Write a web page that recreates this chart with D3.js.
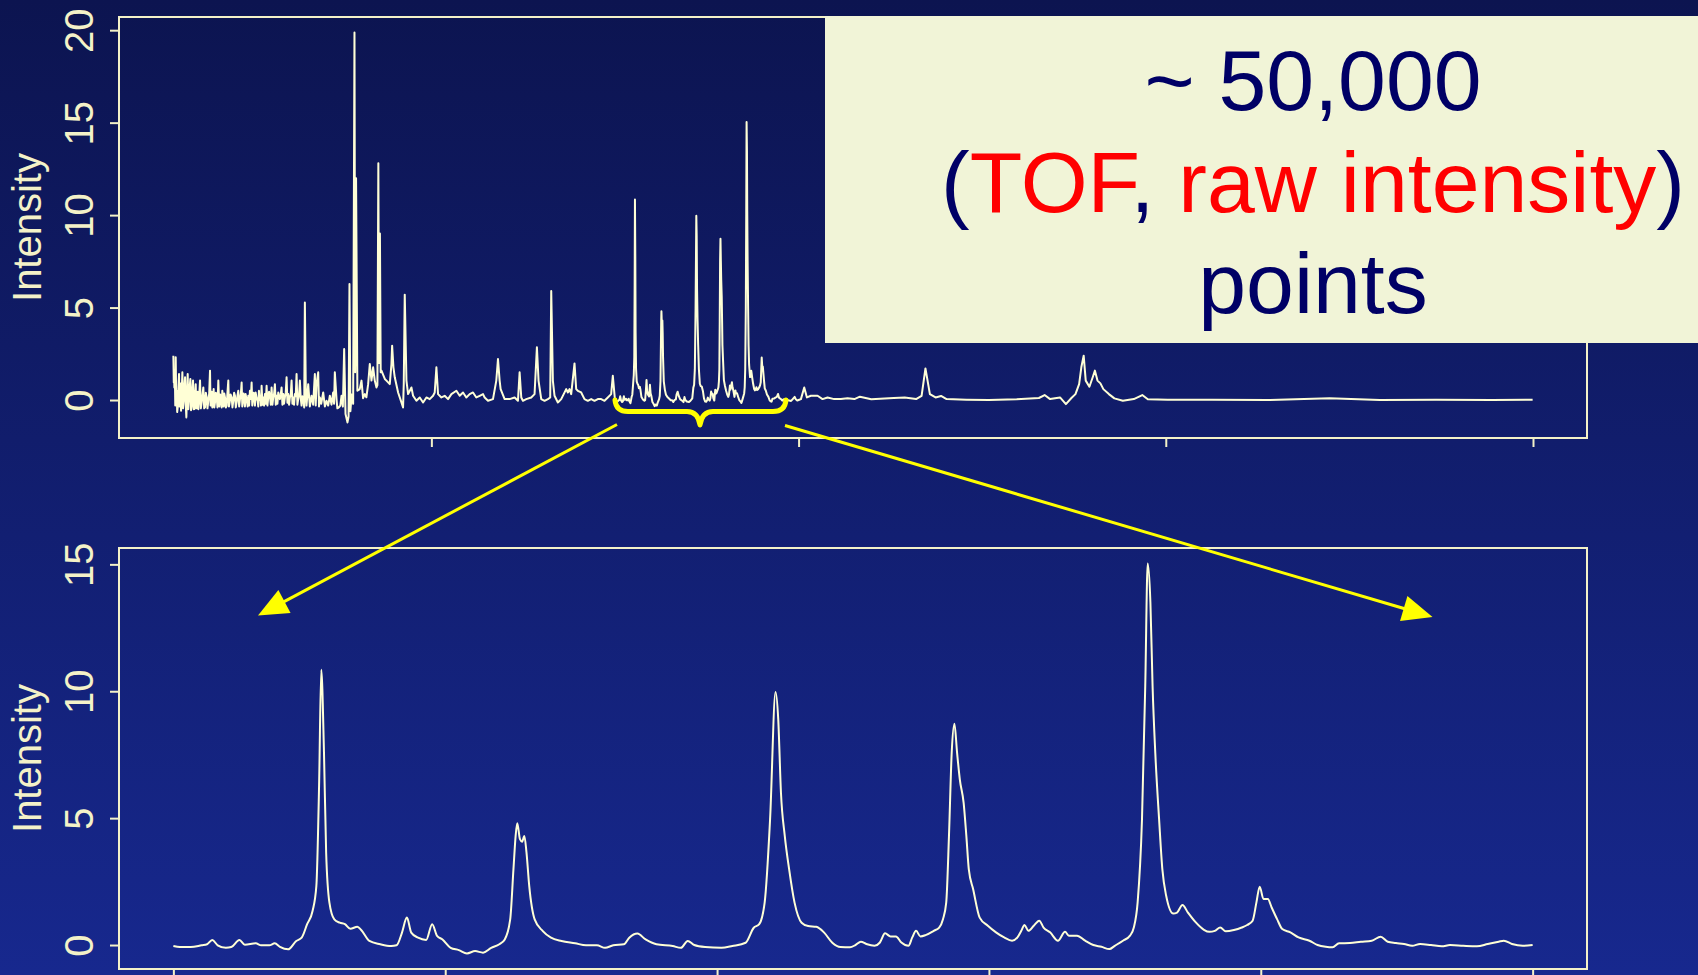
<!DOCTYPE html>
<html>
<head>
<meta charset="utf-8">
<script src="https://cdn.jsdelivr.net/npm/d3@7"></script>
<style>
  html, body { margin: 0; padding: 0; background: #0d1550; overflow: hidden; }
  svg { display: block; }
</style>
</head>
<body>
<svg id="chart" width="1698" height="975"></svg>
<script>
// Time-of-flight positions are in thousands of points, intensities are raw detector units.

// Tick positions
const FULL_TOF_TICKS = [10, 20, 30, 40];
const ZOOM_TOF_TICKS = [15, 16, 17, 18, 19, 20];
const FULL_INTENSITY_TICKS = [0, 5, 10, 15, 20];
const ZOOM_INTENSITY_TICKS = [0, 5, 10, 15];

// Noisy low-TOF end of the spectrum: [tof, intensity]
const SPECTRUM_NOISE = [
  [2.974,2.40],[2.985,0.95],[2.993,1.60],[3.001,0.68],[3.015,1.20],[3.026,-0.30],[3.038,2.31],[3.050,0.20],
  [3.065,0.50],[3.078,-0.65],[3.092,-0.40],[3.110,0.60],[3.128,1.41],[3.142,-0.35],[3.156,0.14],[3.170,0.90],
  [3.183,-0.58],[3.200,0.30],[3.219,1.50],[3.237,-0.45],[3.255,-0.04],[3.273,0.75],[3.292,1.23],[3.310,-0.20],
  [3.328,-0.94],[3.346,0.40],[3.364,1.41],[3.382,-0.50],[3.400,0.05],[3.418,0.70],[3.437,1.14],[3.455,-0.55],
  [3.473,-0.31],[3.491,0.55],[3.509,1.05],[3.527,-0.50],[3.545,-0.49],[3.563,0.30],[3.582,0.86],[3.600,-0.45],
  [3.618,-0.04],[3.636,0.45],[3.654,-0.50],[3.677,0.20],[3.700,1.05],[3.722,-0.45],[3.745,-0.13],[3.768,0.30],
  [3.790,0.68],[3.813,-0.45],[3.836,-0.40],[3.858,0.40],[3.881,0.14],[3.903,-0.45],[3.926,-0.04],[3.949,0.35],
  [3.972,1.59],[3.986,-0.30],[3.999,0.14],[4.017,0.45],[4.035,-0.40],[4.053,-0.10],[4.071,0.59],[4.090,-0.40],
  [4.108,-0.13],[4.130,0.40],[4.153,0.14],[4.175,-0.40],[4.198,1.05],[4.212,0.30],[4.225,-0.35],[4.248,0.30],
  [4.271,0.05],[4.289,-0.40],[4.307,0.50],[4.325,0.10],[4.343,-0.35],[4.361,0.35],[4.380,0.14],[4.402,-0.40],
  [4.425,-0.31],[4.447,0.40],[4.470,1.05],[4.488,-0.35],[4.507,-0.13],[4.534,0.30],[4.561,0.14],[4.583,-0.40],
  [4.606,-0.04],[4.629,0.40],[4.652,0.23],[4.674,-0.40],[4.697,-0.13],[4.720,0.25],[4.742,0.50],[4.765,-0.35],
  [4.788,0.05],[4.810,0.30],[4.833,0.95],[4.851,-0.35],[4.869,-0.04],[4.887,0.35],[4.905,0.14],[4.923,-0.35],
  [4.942,0.32],[4.960,0.10],[4.978,-0.04],[4.996,-0.35],[5.014,0.23],[5.036,-0.30],[5.059,0.50],[5.082,0.05],
  [5.105,0.95],[5.123,-0.30],[5.141,0.05],[5.159,0.40],[5.177,0.23],[5.195,-0.30],[5.214,0.41],[5.241,0.10],
  [5.268,-0.04],[5.286,-0.35],[5.304,0.50],[5.322,0.00],[5.341,0.23],[5.359,-0.30],[5.377,0.77],[5.400,-0.25],
  [5.422,0.14],[5.445,-0.30],[5.467,0.32],[5.490,-0.20],[5.513,0.77],[5.536,-0.30],[5.558,0.14],[5.580,0.45],
  [5.603,0.23],[5.626,-0.25],[5.649,0.68],[5.672,-0.25],[5.694,0.14],[5.717,0.35],[5.739,0.86],[5.762,-0.25],
  [5.785,0.23],[5.808,-0.20],[5.830,0.41],[5.853,0.20],[5.875,0.05],[5.898,0.30],[5.921,0.68],[5.944,-0.25],
  [5.966,0.32],[5.989,-0.20],[6.011,0.14],[6.034,0.40],[6.057,1.23],[6.080,-0.15],[6.102,0.32],[6.125,-0.25],
  [6.147,0.14],[6.170,0.30],[6.193,1.05],[6.216,-0.20],[6.238,0.14],[6.261,-0.25],[6.283,0.32],[6.306,0.20],
  [6.329,1.41],[6.352,-0.25],[6.374,0.05],[6.397,0.30],[6.419,1.05],[6.442,0.10],[6.465,-0.30],[6.488,0.20],
  [6.510,0.14],[6.537,-0.40]
];

// From the noisy end up to the enlarged window: [tof, intensity]
const SPECTRUM_BEFORE = [
  [6.555,5.28],[6.583,0.14],[6.600,-0.30],[6.646,0.86],[6.690,-0.35],[6.737,0.23],[6.780,-0.25],[6.827,1.41],
  [6.850,-0.30],[6.873,0.86],[6.918,1.50],[6.940,-0.35],[6.963,0.14],[7.000,-0.20],[7.054,0.41],[7.100,-0.35],
  [7.145,-0.04],[7.190,-0.30],[7.235,0.23],[7.280,-0.25],[7.326,0.41],[7.350,-0.20],[7.371,1.50],[7.417,0.05],
  [7.440,-0.45],[7.480,-0.40],[7.520,-0.30],[7.553,0.23],[7.590,-0.35],[7.625,2.76],[7.662,-0.76],[7.716,-1.21],
  [7.745,-0.90],[7.770,6.27],[7.795,-0.60],[7.830,0.30],[7.870,-0.20],[7.906,19.87],[7.925,1.50],[7.949,12.00],
  [7.985,0.50],[8.050,0.59],[8.097,1.05],[8.140,0.10],[8.188,0.32],[8.230,0.15],[8.278,0.86],[8.323,1.95],
  [8.369,1.05],[8.414,1.77],[8.459,1.05],[8.505,0.68],[8.530,0.80],[8.556,12.80],[8.575,2.00],[8.599,9.00],
  [8.620,1.50],[8.641,1.59],[8.732,1.14],[8.777,1.05],[8.867,0.86],[8.913,1.95],[8.931,2.94],[8.967,1.77],
  [9.003,1.23],[9.094,0.41],[9.185,-0.13],[9.229,-0.40],[9.248,0.86],[9.275,5.70],[9.321,1.05],[9.366,0.32],
  [9.457,0.68],[9.502,0.23],[9.593,-0.04],[9.683,0.14],[9.774,-0.13],[9.865,0.14],[9.955,0.05],[10.046,0.23],
  [10.091,0.41],[10.137,1.77],[10.182,0.32],[10.273,0.14],[10.363,0.23],[10.454,0.05],[10.545,0.32],[10.681,0.50],
  [10.771,0.23],[10.862,0.41],[10.952,0.14],[11.043,0.32],[11.134,0.41],[11.224,0.14],[11.315,0.23],[11.406,0.32],
  [11.451,0.14],[11.542,-0.04],[11.678,0.05],[11.768,1.05],[11.814,2.22],[11.859,1.05],[11.886,0.59],[11.995,0.05],
  [12.131,0.05],[12.267,0.14],[12.358,-0.04],[12.403,1.50],[12.448,0.14],[12.493,-0.04],[12.584,0.05],[12.720,0.14],
  [12.810,0.32],[12.874,2.85],[12.919,1.04],[12.992,0.05],[13.082,-0.04],[13.173,0.05],[13.236,0.14],[13.264,5.90],
  [13.309,1.04],[13.354,0.23],[13.445,-0.13],[13.536,0.05],[13.672,0.59],[13.717,0.41],[13.762,0.59],[13.808,0.32],
  [13.898,1.98],[13.944,0.59],[13.989,0.50],[14.080,0.41],[14.170,0.05],[14.261,-0.04],[14.352,0.05],[14.442,-0.04],
  [14.533,0.05],[14.624,0.05],[14.715,-0.04],[14.805,0.14],[14.896,0.32],[14.941,1.31],[14.986,0.32]
];

// Enlarged window, 15k to 20k points: [tof, intensity]
const SPECTRUM_WINDOW = [
  [15.000,-0.04],[15.024,-0.08],[15.064,-0.08],[15.104,-0.01],[15.124,0.03],[15.143,0.20],[15.163,-0.01],[15.193,-0.11],
  [15.213,-0.08],[15.243,0.20],[15.263,0.01],[15.303,0.07],[15.323,-0.01],[15.353,-0.01],[15.373,0.07],[15.392,-0.07],
  [15.422,-0.17],[15.452,0.16],[15.472,0.29],[15.492,0.82],[15.512,1.34],[15.526,2.33],[15.536,6.28],[15.544,10.85],
  [15.554,7.60],[15.562,3.64],[15.574,1.67],[15.592,1.01],[15.612,0.88],[15.631,0.82],[15.651,0.64],[15.677,0.72],
  [15.691,0.59],[15.721,0.16],[15.761,0.03],[15.801,-0.04],[15.821,-0.01],[15.841,0.49],[15.859,1.08],[15.875,0.49],
  [15.900,0.29],[15.930,0.20],[15.952,0.82],[15.970,0.36],[15.990,0.22],[16.020,-0.11],[16.050,-0.20],[16.080,-0.33],
  [16.110,-0.24],[16.139,-0.30],[16.169,-0.11],[16.199,0.03],[16.219,0.22],[16.239,1.01],[16.251,2.99],[16.259,4.30],
  [16.265,4.80],[16.275,4.17],[16.283,4.07],[16.291,4.30],[16.299,3.64],[16.309,2.33],[16.329,1.01],[16.359,0.55],
  [16.389,0.29],[16.428,0.16],[16.478,0.07],[16.518,-0.01],[16.558,-0.01],[16.588,-0.11],[16.618,-0.01],[16.657,0.03],
  [16.677,0.29],[16.707,0.45],[16.737,0.22],[16.777,0.03],[16.837,-0.04],[16.867,-0.11],[16.892,0.16],[16.916,0.00],
  [16.956,-0.08],[17.016,-0.11],[17.056,-0.04],[17.105,0.09],[17.135,0.68],[17.155,0.82],[17.175,1.67],[17.195,4.96],
  [17.215,9.97],[17.225,8.89],[17.235,6.00],[17.249,4.30],[17.265,2.99],[17.285,1.67],[17.311,0.88],[17.335,0.75],
  [17.365,0.72],[17.394,0.49],[17.424,0.09],[17.454,-0.08],[17.489,-0.09],[17.509,0.00],[17.529,0.13],[17.549,0.04],
  [17.579,-0.03],[17.599,0.10],[17.618,0.46],[17.638,0.34],[17.658,0.34],[17.678,0.10],[17.704,-0.03],[17.718,0.30],
  [17.732,0.56],[17.748,0.34],[17.767,0.39],[17.797,0.56],[17.817,0.69],[17.831,1.02],[17.843,1.68],[17.853,4.29],
  [17.863,7.56],[17.873,8.72],[17.883,7.56],[17.893,6.52],[17.907,5.60],[17.917,4.29],[17.926,2.98],[17.942,2.20],
  [17.966,1.08],[17.996,0.76],[18.026,0.50],[18.056,0.30],[18.085,0.17],[18.105,0.30],[18.119,0.56],[18.131,0.79],
  [18.145,0.56],[18.165,0.76],[18.185,0.96],[18.201,0.69],[18.225,0.50],[18.254,0.17],[18.280,0.52],[18.294,0.37],
  [18.324,0.37],[18.354,0.17],[18.384,0.00],[18.414,-0.07],[18.443,-0.16],[18.463,-0.03],[18.493,0.17],[18.519,0.37],
  [18.533,0.69],[18.547,1.68],[18.563,4.95],[18.575,10.20],[18.584,15.03],[18.594,13.50],[18.602,10.20],[18.612,7.56],
  [18.626,4.95],[18.638,2.98],[18.652,1.94],[18.678,1.24],[18.692,1.28],[18.712,1.58],[18.732,1.28],[18.761,0.89],
  [18.791,0.60],[18.811,0.52],[18.831,0.56],[18.851,0.69],[18.871,0.54],[18.901,0.59],[18.930,0.69],[18.950,0.79],
  [18.970,0.96],[18.984,1.68],[18.996,2.30],[19.010,1.81],[19.026,1.81],[19.040,1.48],[19.060,1.02],[19.079,0.63],
  [19.109,0.50],[19.139,0.30],[19.179,0.17],[19.209,0.00],[19.239,-0.07],[19.264,-0.09],[19.288,0.07],[19.328,0.08],
  [19.368,0.13],[19.408,0.17],[19.441,0.33],[19.467,0.13],[19.497,0.08],[19.527,0.04],[19.557,-0.03],[19.586,0.04],
  [19.626,0.00],[19.666,-0.05],[19.696,0.00],[19.745,-0.03],[19.795,-0.05],[19.835,0.04],[19.875,0.13],[19.894,0.17],
  [19.924,0.04],[19.964,-0.03],[20.000,0.00]
];

// Spectrum after the enlarged window: [tof, intensity]
const SPECTRUM_AFTER = [
  [20.064,0.05],[20.154,0.68],[20.227,0.14],[20.336,0.23],[20.517,0.23],[20.653,0.05],[20.789,0.14],[20.970,0.05],
  [21.151,0.05],[21.333,0.10],[21.520,0.05],[21.670,0.18],[21.980,0.04],[22.590,0.11],[22.890,0.14],[23.200,0.05],
  [23.350,0.23],[23.455,1.71],[23.576,0.32],[23.730,0.14],[23.880,0.22],[24.030,0.05],[24.570,0.02],[25.180,0.00],
  [25.940,0.04],[26.545,0.11],[26.700,0.27],[26.850,0.05],[27.120,0.14],[27.280,-0.22],[27.430,0.11],[27.540,0.32],
  [27.640,0.86],[27.700,1.77],[27.764,2.40],[27.820,1.05],[27.920,0.72],[28.010,1.23],[28.070,1.59],[28.140,1.05],
  [28.220,0.90],[28.300,0.59],[28.450,0.32],[28.600,0.09],[28.830,-0.04],[29.130,0.05],[29.360,0.27],[29.510,0.04],
  [30.050,0.02],[31.270,0.02],[32.790,0.00],[34.460,0.09],[35.830,0.00],[37.360,0.02],[38.880,0.00],[39.990,0.02]
];

const FULL_SPECTRUM = SPECTRUM_NOISE.concat(SPECTRUM_BEFORE, SPECTRUM_WINDOW, SPECTRUM_AFTER);

// ---------------------------------------------------------------- drawing
const W = 1698, H = 975;
const CREAM = "#f4f2c8";
const TRACE = "#ffffd6";
const FONT = "'Liberation Sans', Arial, Helvetica, sans-serif";

const svg = d3.select("#chart");
const defs = svg.append("defs");
const bg = defs.append("linearGradient").attr("id", "bg")
  .attr("x1", 0).attr("y1", 0).attr("x2", 0).attr("y2", 1);
bg.append("stop").attr("offset", "0%").attr("stop-color", "#0c1450");
bg.append("stop").attr("offset", "100%").attr("stop-color", "#17288e");
svg.append("rect").attr("width", W).attr("height", H).attr("fill", "url(#bg)");

// R-style axis range: data extent widened by 4% on both sides
function padded(ext) {
  const r = ext[1] - ext[0];
  return [ext[0] - 0.04 * r, ext[1] + 0.04 * r];
}

function drawPanel(box, series, xTicks, yTicks, curve) {
  const x = d3.scaleLinear()
    .domain(padded(d3.extent(series, d => d[0])))
    .range([box.left, box.right]);
  const y = d3.scaleLinear()
    .domain(padded(d3.extent(series, d => d[1])))
    .range([box.bottom, box.top]);

  const g = svg.append("g");

  g.append("path")
    .datum(series)
    .attr("fill", "none")
    .attr("stroke", TRACE)
    .attr("stroke-width", 2)
    .attr("stroke-linejoin", "round")
    .attr("d", d3.line().curve(curve).x(d => x(d[0])).y(d => y(d[1])));

  const yAx = g.append("g")
    .attr("transform", `translate(${box.left},0)`)
    .call(d3.axisLeft(y).tickValues(yTicks).tickSize(9).tickSizeOuter(0));
  yAx.select(".domain").remove();
  yAx.attr("color", CREAM).attr("font-size", 40).attr("font-family", FONT);
  yAx.selectAll(".tick line").attr("stroke-width", 2);
  yAx.selectAll(".tick text")
    .attr("x", 0).attr("dy", null)
    .attr("text-anchor", "middle")
    .attr("transform", "translate(-26,0) rotate(-90)");

  const xAx = g.append("g")
    .attr("transform", `translate(0,${box.bottom})`)
    .call(d3.axisBottom(x).tickValues(xTicks).tickSize(9).tickSizeOuter(0).tickFormat(() => ""));
  xAx.select(".domain").remove();
  xAx.attr("color", CREAM);
  xAx.selectAll(".tick line").attr("stroke-width", 2);

  g.append("rect")
    .attr("x", box.left).attr("y", box.top)
    .attr("width", box.right - box.left).attr("height", box.bottom - box.top)
    .attr("fill", "none").attr("stroke", CREAM).attr("stroke-width", 2);

  g.append("text")
    .attr("transform", `translate(41,${(box.top + box.bottom) / 2}) rotate(-90)`)
    .attr("text-anchor", "middle")
    .attr("font-family", FONT).attr("font-size", 40).attr("fill", CREAM)
    .text("Intensity");

  return { x, y };
}

drawPanel({ left: 119, right: 1587, top: 17, bottom: 438 },
  FULL_SPECTRUM, FULL_TOF_TICKS, FULL_INTENSITY_TICKS, d3.curveLinear);
drawPanel({ left: 119, right: 1587, top: 548, bottom: 969 },
  SPECTRUM_WINDOW, ZOOM_TOF_TICKS, ZOOM_INTENSITY_TICKS, d3.curveMonotoneX);

// Callout box
svg.append("rect")
  .attr("x", 825).attr("y", 16).attr("width", W - 825).attr("height", 327)
  .attr("fill", "#f1f4d7");

const NAVY = "#000066", RED = "#ff0000";
const callout = svg.append("g")
  .attr("font-family", FONT).attr("font-size", 86)
  .attr("text-anchor", "middle").style("white-space", "pre");
callout.append("text").attr("x", 1313).attr("y", 110).attr("fill", NAVY).text("~ 50,000");
const l2 = callout.append("text").attr("x", 1313).attr("y", 212);
l2.append("tspan").attr("fill", NAVY).text("(");
l2.append("tspan").attr("fill", RED).text("TOF");
l2.append("tspan").attr("fill", NAVY).text(", ");
l2.append("tspan").attr("fill", RED).text("raw intensity");
l2.append("tspan").attr("fill", NAVY).text(")");
callout.append("text").attr("x", 1313).attr("y", 313).attr("fill", NAVY).text("points");

// Brace under the enlarged window and the two arrows
const YEL = "#ffff00";
svg.append("path")
  .attr("d", "M615,400 Q616,411.5 628,411.5 L687,411.5 Q698,411.5 700,425 Q702,411.5 713,411.5 L773,411.5 Q785,411.5 786,400")
  .attr("fill", "none").attr("stroke", YEL).attr("stroke-width", 5)
  .attr("stroke-linecap", "round").attr("stroke-linejoin", "round");

function arrow(x0, y0, x1, y1) {
  const dx = x1 - x0, dy = y1 - y0, len = Math.hypot(dx, dy);
  const ux = dx / len, uy = dy / len, nx = -uy, ny = ux;
  const hl = 30, hw = 13;
  const bx = x1 - ux * hl, by = y1 - uy * hl;
  svg.append("line")
    .attr("x1", x0).attr("y1", y0).attr("x2", bx + ux * 2).attr("y2", by + uy * 2)
    .attr("stroke", YEL).attr("stroke-width", 3);
  svg.append("path")
    .attr("d", `M${x1},${y1} L${bx + nx * hw},${by + ny * hw} L${bx - nx * hw},${by - ny * hw} Z`)
    .attr("fill", YEL);
}
arrow(617, 424.5, 258, 615.5);
arrow(785, 425.5, 1432.5, 617);
</script>
</body>
</html>
